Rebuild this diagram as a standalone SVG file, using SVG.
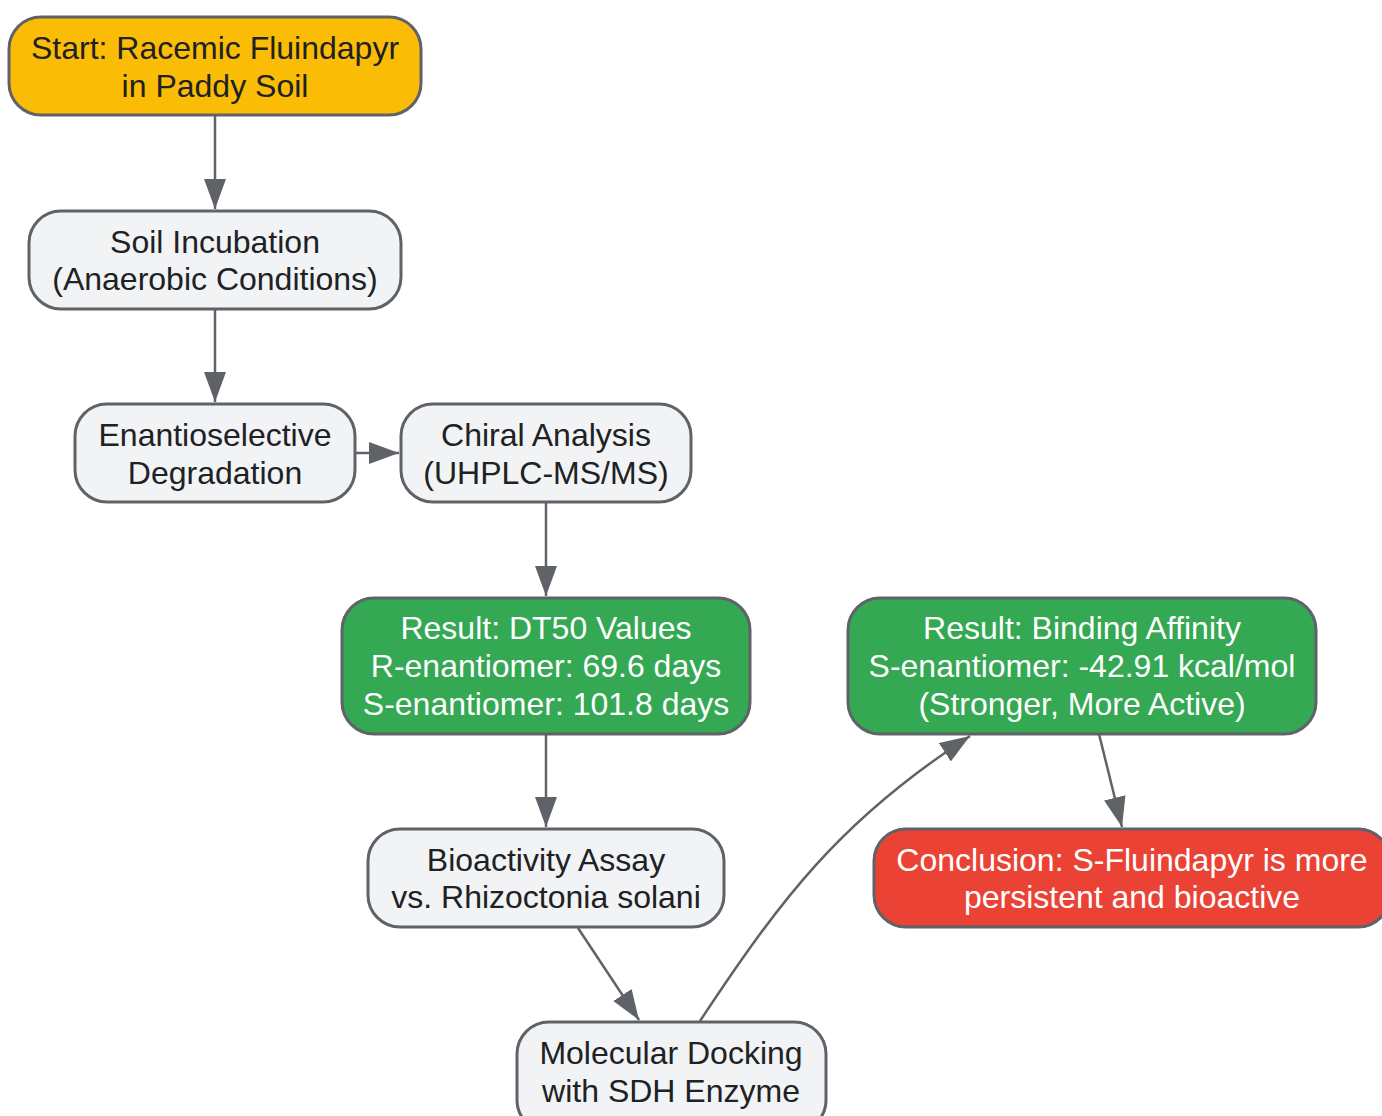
<svg xmlns="http://www.w3.org/2000/svg" width="1382" height="1116" viewBox="0 0 1382 1116">
<defs>
<marker id="ah" markerUnits="userSpaceOnUse" markerWidth="32" markerHeight="24" refX="30" refY="11" orient="auto">
<path d="M0,0 L30,11 L0,22 Z" fill="#5f6368"/>
</marker>
<style>
.n rect{stroke:#5f6368;stroke-width:3}
.g rect{fill:#f1f3f4}
.y rect{fill:#fbbc05}
.gr rect{fill:#34a853}
.r rect{fill:#ea4335}
text{font-family:"Liberation Sans",Arial,sans-serif;font-size:32px;text-anchor:middle}
.g text,.y text{fill:#202124}
.gr text,.r text{fill:#ffffff}
.e path{fill:none;stroke:#5f6368;stroke-width:2.5}
</style>
</defs>
<rect width="1382" height="1116" fill="#ffffff"/>
<g id="connectors" class="e">
<path d="M215,115 L215,209" marker-end="url(#ah)"/>
<path d="M215,309 L215,402" marker-end="url(#ah)"/>
<path d="M355,453 L399,453" marker-end="url(#ah)"/>
<path d="M546,502 L546,596" marker-end="url(#ah)"/>
<path d="M546,734 L546,827" marker-end="url(#ah)"/>
<path d="M578,928 L639,1020" marker-end="url(#ah)"/>
<path d="M700,1021 C780,900 840,820 970,736" marker-end="url(#ah)"/>
<path d="M1099,734 L1122,827" marker-end="url(#ah)"/>
</g>
<g id="start" class="n y">
<rect x="9" y="17" width="412" height="98" rx="32"/>
<text x="215" y="59">Start: Racemic Fluindapyr</text>
<text x="215" y="97">in Paddy Soil</text>
</g>
<g id="incubation" class="n g">
<rect x="29" y="211" width="372" height="98" rx="32"/>
<text x="215" y="253">Soil Incubation</text>
<text x="215" y="290">(Anaerobic Conditions)</text>
</g>
<g id="degradation" class="n g">
<rect x="75" y="404" width="280" height="98" rx="32"/>
<text x="215" y="446">Enantioselective</text>
<text x="215" y="484">Degradation</text>
</g>
<g id="chiral" class="n g">
<rect x="401" y="404" width="290" height="98" rx="32"/>
<text x="546" y="446">Chiral Analysis</text>
<text x="546" y="484">(UHPLC-MS/MS)</text>
</g>
<g id="dt50" class="n gr">
<rect x="342" y="598" width="408" height="136" rx="32"/>
<text x="546" y="639">Result: DT50 Values</text>
<text x="546" y="677">R-enantiomer: 69.6 days</text>
<text x="546" y="715">S-enantiomer: 101.8 days</text>
</g>
<g id="binding" class="n gr">
<rect x="848" y="598" width="468" height="136" rx="32"/>
<text x="1082" y="639">Result: Binding Affinity</text>
<text x="1082" y="677">S-enantiomer: -42.91 kcal/mol</text>
<text x="1082" y="715">(Stronger, More Active)</text>
</g>
<g id="bioactivity" class="n g">
<rect x="368" y="829" width="356" height="98" rx="32"/>
<text x="546" y="871">Bioactivity Assay</text>
<text x="546" y="908">vs. Rhizoctonia solani</text>
</g>
<g id="docking" class="n g">
<rect x="517" y="1022" width="309" height="110" rx="32"/>
<text x="671" y="1064">Molecular Docking</text>
<text x="671" y="1102">with SDH Enzyme</text>
</g>
<g id="conclusion" class="n r">
<rect x="874" y="829" width="516" height="98" rx="32"/>
<text x="1132" y="871">Conclusion: S-Fluindapyr is more</text>
<text x="1132" y="908">persistent and bioactive</text>
</g>
</svg>
